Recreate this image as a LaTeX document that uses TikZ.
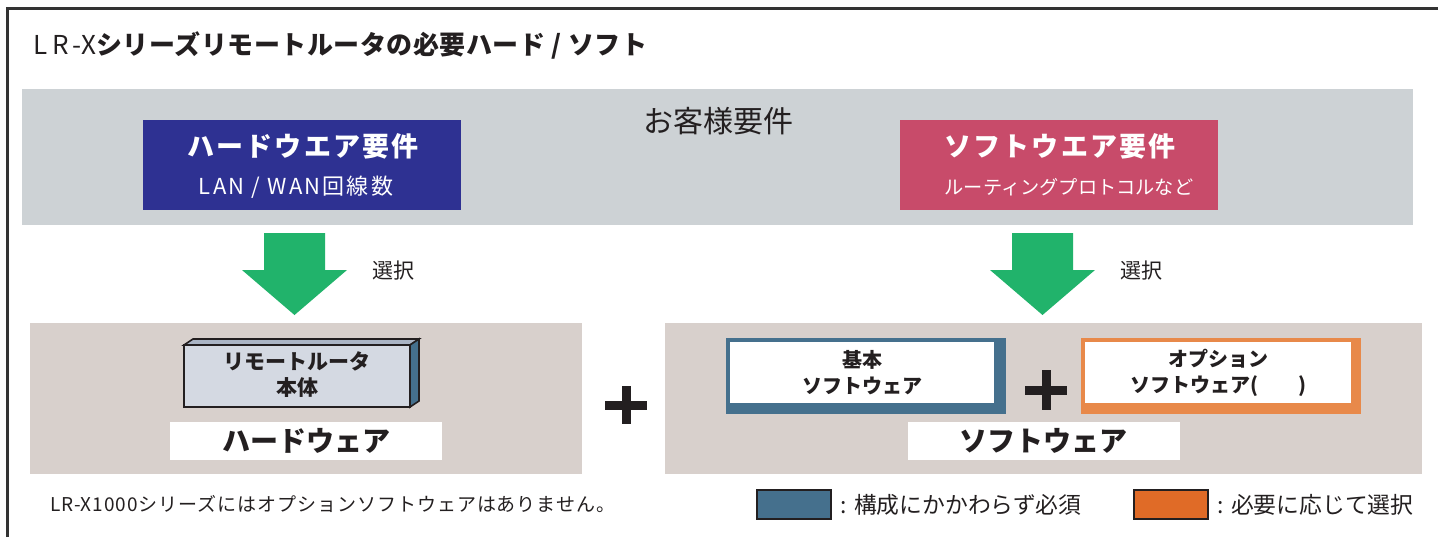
\documentclass[tikz,border=0pt]{standalone}
\usepackage{fontspec}
\setmainfont{Noto Sans CJK JP}
\usetikzlibrary{positioning}
\definecolor{framegray}{HTML}{333333}
\definecolor{bandgray}{HTML}{CDD2D5}
\definecolor{bandtan}{HTML}{D8D0CC}
\definecolor{hwblue}{HTML}{2E3192}
\definecolor{swpink}{HTML}{C84B6A}
\definecolor{selgreen}{HTML}{21B36B}
\definecolor{boxfront}{HTML}{D4D9E2}
\definecolor{boxtop}{HTML}{AAB4C4}
\definecolor{steelblue}{HTML}{45708D}
\definecolor{optorange}{HTML}{E8894A}
\definecolor{legorange}{HTML}{E06B27}
\definecolor{inkdark}{HTML}{231F20}
\newcommand{\spaced}[1]{\addfontfeature{LetterSpace=#1}}

\begin{document}
\begin{tikzpicture}[x=0.5pt,y=-0.5pt,
    band/.style={fill=#1, draw=none, inner sep=0pt, anchor=north west},
    reqbox/.style={fill=#1, draw=none, inner sep=0pt, minimum width=159pt, minimum height=45pt},
    reqtitle/.style={text=white, font=\bfseries\fontsize{13.5}{15}\selectfont\spaced{8}},
    reqsub/.style={text=white, font=\fontsize{11}{12}\selectfont\spaced{10}},
    seltext/.style={text=inkdark, font=\fontsize{10.5}{12}\selectfont},
    boxtext/.style={text=inkdark, font=\bfseries\fontsize{10.5}{13}\selectfont, align=center},
    label/.style={fill=white, inner sep=0pt, minimum width=136pt, minimum height=19pt,
                  text=inkdark, font=\bfseries\fontsize{14}{17}\selectfont},
    legtext/.style={anchor=west, text=inkdark, font=\fontsize{11.4}{13}\selectfont},
    plus/.style={line width=4.5pt, inkdark},
    selarrow/.style={fill=selgreen, draw=none}]
    \useasboundingbox (0,0) rectangle (1438,537);
    % frame
    \draw[line width=1.5pt, framegray] (7,537) -- (7,8) -- (1438,8);
    \node[anchor=west, inner sep=0pt, text=inkdark, font=\fontsize{13}{15}\selectfont] (title) at (33,45)
        {{\spaced{18}LR-}X\textbf{\spaced{2}シリーズリモートルータの必要ハード / ソフト}};
    % customer requirements
    \node[band=bandgray, minimum width=695.5pt, minimum height=68pt] (needs) at (22,89) {};
    \node[text=inkdark, font=\fontsize{15}{17}\selectfont] (needstext) at (718,121) {お客様要件};
    \node[reqbox=hwblue] (hwreq) at (302,165) {};
    \node[reqtitle] (hwtitle) at (303,146) {ハードウエア要件};
    \node[reqsub] (hwsub) at (296,187) {LAN / WAN回線数};
    \node[reqbox=swpink] (swreq) at (1058.5,165) {};
    \node[reqtitle] (swtitle) at (1060,146) {ソフトウエア要件};
    \node[reqsub, font=\fontsize{9.6}{12}\selectfont] (swsub) at (1069,187) {ルーティングプロトコルなど};
    % select arrows
    \coordinate (hwsel) at (294.5,233);
    \coordinate (swsel) at (1042.5,233);
    \foreach \c in {hwsel,swsel}
        \fill[selarrow] (\c) ++(-30.5,0) -- ++(61,0) -- ++(0,37) -- ++(22,0)
            -- ++(-52.5,45) -- ++(-52.5,-45) -- ++(22,0) -- cycle;
    \node[seltext] (hwseltext) at (393,271) {選択};
    \node[seltext] (swseltext) at (1141,271) {選択};
    % hardware
    \node[band=bandtan, minimum width=276pt, minimum height=75.5pt] (hwband) at (30,323) {};
    \fill[boxtop, draw=inkdark, line width=0.8pt] (184,345) -- (193,339) -- (419,339) -- (410,345) -- cycle;
    \fill[steelblue, draw=inkdark, line width=0.8pt] (410,345) -- (419,339) -- (419,401) -- (410,407) -- cycle;
    \node[fill=boxfront, draw=inkdark, line width=0.8pt, inner sep=0pt, minimum width=113pt,
          minimum height=31pt] (router) at (297,376) {};
    \node[boxtext] (routertext) at (297,375) {リモートルータ\\本体};
    \node[label] (hwlabel) at (306,441) {ハードウェア};
    \draw[plus] (605,405) -- (647,405);
    \draw[plus] (626,386) -- (626,424);
    % software
    \node[band=bandtan, minimum width=378.5pt, minimum height=75.5pt] (swband) at (665,323) {};
    \fill[steelblue] (726,338) rectangle (1006,414);
    \node[fill=white, inner sep=0pt, minimum width=132pt, minimum height=30.5pt] (basic) at (862,372.5) {};
    \node[boxtext, font=\bfseries\fontsize{10}{13}\selectfont] (basictext) at (862,373) {基本\\ソフトウェア};
    \fill[optorange] (1081,338) rectangle (1361,414);
    \node[fill=white, inner sep=0pt, minimum width=133pt, minimum height=30.5pt] (option) at (1218,372.5) {};
    \node[boxtext, font=\bfseries\fontsize{10}{13}\selectfont] (optiontext) at (1218,373)
        {オプション\\ソフトウェア(\hspace{2em})};
    \draw[plus] (1025,390) -- (1067,390);
    \draw[plus] (1046,370) -- (1046,410);
    \node[label] (swlabel) at (1043.5,441) {ソフトウェア};
    % notes and legend
    \node[anchor=west, inner sep=0pt, text=inkdark, font=\fontsize{9.5}{11}\selectfont\spaced{5}] (note) at (50,504)
        {LR-X1000シリーズにはオプションソフトウェアはありません。};
    \node[fill=steelblue, draw=inkdark, line width=0.8pt, inner sep=0pt, minimum width=37pt,
          minimum height=14.5pt] (legbasic) at (794,504.5) {};
    \node[legtext, right=1pt of legbasic] (legbasictext) {: 構成にかかわらず必須};
    \node[fill=legorange, draw=inkdark, line width=0.8pt, inner sep=0pt, minimum width=37pt,
          minimum height=14.5pt] (legoption) at (1171,504.5) {};
    \node[legtext, right=1pt of legoption] (legoptiontext) {: 必要に応じて選択};
\end{tikzpicture}
\end{document}
